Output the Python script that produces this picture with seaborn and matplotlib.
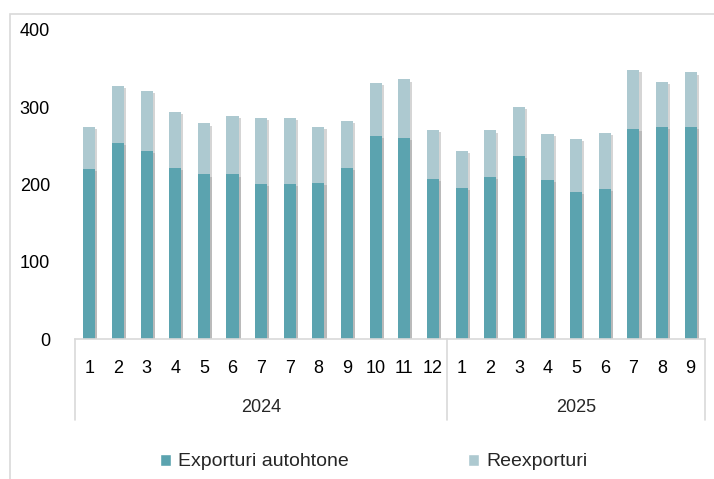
import numpy as np
import pandas as pd
import matplotlib
matplotlib.use("Agg")
import matplotlib.pyplot as plt
import matplotlib.patheffects as pe
from matplotlib.patches import Patch, Rectangle
import matplotlib.transforms as mtransforms
import seaborn as sns

# ---- data ----
years = ["2024", "2025"]
months_2024 = ["1", "2", "3", "4", "5", "6", "7", "7", "8", "9", "10", "11", "12"]
months_2025 = ["1", "2", "3", "4", "5", "6", "7", "8", "9"]
autohtone = [220, 254, 243, 222, 213, 213, 201, 201, 202, 221, 263, 260, 207,
             195, 210, 237, 206, 190, 194, 272, 274, 275]
reexport = [55, 74, 78, 72, 66, 76, 85, 85, 72, 61, 69, 76, 64,
            49, 60, 63, 60, 69, 73, 76, 59, 70]
series_names = ["Exporturi autohtone", "Reexporturi"]

dark = "#5BA3AF"
light = "#ADC9D0"
grid_gray = "#D9D9D9"

sns.set_theme(style="white")
plt.rcParams["font.family"] = ["Liberation Sans", "DejaVu Sans"]

labels = months_2024 + months_2025
n = len(labels)
df = pd.DataFrame({
    "idx": list(range(n)),
    "aut": autohtone,
    "tot": [a + r for a, r in zip(autohtone, reexport)],
})

fig = plt.figure(figsize=(7.14, 4.79), dpi=100)
ax = fig.add_axes([75 / 714, 1 - 339 / 479, 630 / 714, 309 / 479])

shadow = [pe.SimplePatchShadow(offset=(1.5, -1.5), shadow_rgbFace="#888888", alpha=0.35), pe.Normal()]
sns.barplot(data=df, x="idx", y="tot", color=light, width=0.42, saturation=1,
            ax=ax, edgecolor="none")
sns.barplot(data=df, x="idx", y="aut", color=dark, width=0.42, saturation=1,
            ax=ax, edgecolor="none")
for p in ax.patches:
    p.set_path_effects(shadow)

ax.set_xlim(-0.5, n - 0.5)
ax.set_ylim(0, 400)
ax.set_yticks([0, 100, 200, 300, 400])
ax.set_xticks(range(n))
ax.set_xticklabels(labels)
ax.tick_params(axis="x", length=0, pad=15, labelsize=13, colors="#000000")
ax.tick_params(axis="y", length=0, pad=18, labelsize=13, colors="#000000")
ax.set_xlabel("")
ax.set_ylabel("")
for s in ["top", "right", "left"]:
    ax.spines[s].set_visible(False)
ax.spines["bottom"].set_color(grid_gray)
ax.spines["bottom"].set_linewidth(1.2)

trans = mtransforms.blended_transform_factory(ax.transData, ax.transAxes)
for xs in [-0.5, len(months_2024) - 0.5, n - 0.5]:
    ax.plot([xs, xs], [0, -0.262], transform=trans, color=grid_gray, lw=1.2, clip_on=False)
centers = [(len(months_2024) - 1) / 2, len(months_2024) + (len(months_2025) - 1) / 2]
for c, y in zip(centers, years):
    ax.text(c, -0.223, y, transform=trans, ha="center", va="center", fontsize=13)

# outer border
fig.patches.append(Rectangle((10 / 714, -0.01), 1, 1 - 14 / 479 + 0.01,
                             transform=fig.transFigure, fill=False,
                             edgecolor=grid_gray, lw=1.2))

handles = [Patch(facecolor=dark, label=series_names[0]),
           Patch(facecolor=light, label=series_names[1])]
leg = fig.legend(handles=handles, loc="center left", bbox_to_anchor=(160 / 714, 1 - 462 / 479),
                 ncol=2, frameon=False, prop={"size": 14},
                 handlelength=0.58, handleheight=0.58, handletextpad=0.36, columnspacing=6.1,
                 borderpad=0, borderaxespad=0)

fig.savefig("out.png", dpi=100)
